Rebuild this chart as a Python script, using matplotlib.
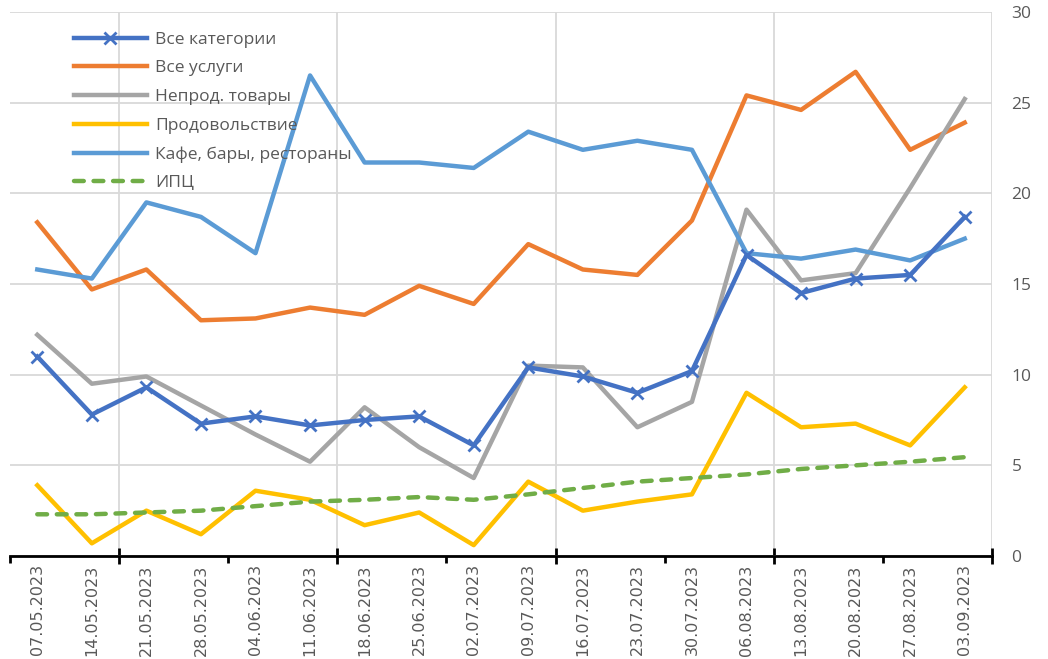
import matplotlib.pyplot as plt
import numpy as np

plt.rcParams['font.family'] = ['Open Sans', 'DejaVu Sans']

dates = ['07.05.2023', '14.05.2023', '21.05.2023', '28.05.2023', '04.06.2023', '11.06.2023',
         '18.06.2023', '25.06.2023', '02.07.2023', '09.07.2023', '16.07.2023', '23.07.2023',
         '30.07.2023', '06.08.2023', '13.08.2023', '20.08.2023', '27.08.2023', '03.09.2023']

vse_kategorii = [11.0, 7.8, 9.3, 7.3, 7.7, 7.2, 7.5, 7.7, 6.1, 10.4, 9.9, 9.0, 10.2, 16.6, 14.5, 15.3, 15.5, 18.7]
vse_uslugi = [18.4, 14.7, 15.8, 13.0, 13.1, 13.7, 13.3, 14.9, 13.9, 17.2, 15.8, 15.5, 18.5, 25.4, 24.6, 26.7, 22.4, 23.9]
neprod = [12.2, 9.5, 9.9, 8.3, 6.7, 5.2, 8.2, 6.0, 4.3, 10.5, 10.4, 7.1, 8.5, 19.1, 15.2, 15.6, 20.3, 25.2]
prodov = [3.9, 0.7, 2.5, 1.2, 3.6, 3.1, 1.7, 2.4, 0.6, 4.1, 2.5, 3.0, 3.4, 9.0, 7.1, 7.3, 6.1, 9.3]
kafe = [15.8, 15.3, 19.5, 18.7, 16.7, 26.5, 21.7, 21.7, 21.4, 23.4, 22.4, 22.9, 22.4, 16.7, 16.4, 16.9, 16.3, 17.5]
ipc = [2.3, 2.3, 2.4, 2.5, 2.75, 3.0, 3.1, 3.25, 3.1, 3.4, 3.75, 4.1, 4.3, 4.5, 4.8, 5.0, 5.2, 5.45]

x = np.arange(len(dates))

fig = plt.figure(figsize=(10.48, 6.59), dpi=100)
ax = fig.add_axes([10 / 1048, 103 / 659, 982 / 1048, 544 / 659])

lw = 3.2
ax.plot(x, vse_kategorii, color='#4472C4', lw=lw, marker='x', markersize=9, markeredgewidth=2, label='Все категории', zorder=5)
ax.plot(x, vse_uslugi, color='#ED7D31', lw=lw, label='Все услуги', zorder=4)
ax.plot(x, neprod, color='#A5A5A5', lw=lw, label='Непрод. товары', zorder=4)
ax.plot(x, prodov, color='#FFC000', lw=lw, label='Продовольствие', zorder=4)
ax.plot(x, kafe, color='#5B9BD5', lw=lw, label='Кафе, бары, рестораны', zorder=4)
ax.plot(x, ipc, color='#70AD47', lw=lw, ls=(0, (2.2, 2.2)), dash_capstyle='round', label='ИПЦ', zorder=6)

ax.set_xlim(-0.5, len(dates) - 0.5)
ax.set_ylim(0, 30)

# ось Y справа
ax.yaxis.tick_right()
ax.set_yticks(np.arange(0, 31, 5))
ax.tick_params(axis='y', length=0, pad=14, labelsize=12.5, labelcolor='#595959')
ax.grid(True, axis='y', color='#D9D9D9', lw=1.3)

# подписи дат
ax.set_xticks(x)
ax.set_xticklabels(dates, rotation=90, fontsize=11.5, color='#595959', fontfamily=['Liberation Sans Narrow', 'DejaVu Sans'])
ax.tick_params(axis='x', which='major', length=0, pad=6)
ax.set_xticks(np.arange(-0.5, len(dates), 4), minor=True)
ax.tick_params(axis='x', which='minor', length=5, width=2, color='black')

big = np.arange(1.5, len(dates), 4)
for b in big:
    ax.axvline(b, color='#D9D9D9', lw=1.3, zorder=0)
sec = ax.secondary_xaxis('bottom')
sec.set_xticks(big)
sec.set_xticklabels([])
sec.tick_params(length=12, width=2, direction='inout', color='black')
for s in sec.spines.values():
    s.set_visible(False)

for s in ['top', 'left', 'right']:
    ax.spines[s].set_visible(False)
ax.spines['bottom'].set_linewidth(2)

ax.legend(loc='upper left', bbox_to_anchor=(0.056, 0.98), frameon=False, fontsize=12.5,
          handlelength=4.2, handletextpad=0.5, labelspacing=0.72, borderpad=0,
          labelcolor='#595959')

plt.savefig('out.png', dpi=100)
